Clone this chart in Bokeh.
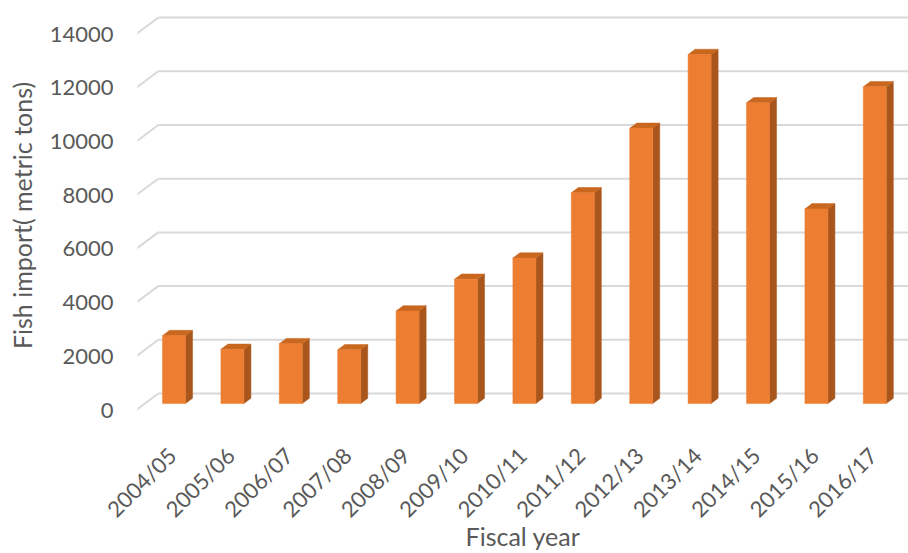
from math import pi
from bokeh.plotting import figure
from bokeh.models import FixedTicker, Range1d
from bokeh.embed import file_html
from bokeh.resources import INLINE

# Fish imports by fiscal year (metric tons)
years = ["2004/05", "2005/06", "2006/07", "2007/08", "2008/09", "2009/10",
         "2010/11", "2011/12", "2012/13", "2013/14", "2014/15", "2015/16",
         "2016/17"]
imports = [2530, 2020, 2230, 2000, 3450, 4630, 5420, 7850, 10250, 13000,
           11200, 7250, 11800]
y_ticks = [0, 2000, 4000, 6000, 8000, 10000, 12000, 14000]

FRONT = "#ED7D31"
SIDE = "#A9561D"
TOP = "#C9671F"
GRID = "#D9D9D9"
TEXT = "#595959"
FONT = "Lato"

# pixel geometry of the plotting frame
W, H = 908, 553
LEFT, RIGHT, TOP_B, BOTTOM = 137, 0, 5, 128
frame_w = W - LEFT - RIGHT
frame_h = H - TOP_B - BOTTOM
px_per_cat = 58.4
px_per_unit = 0.02685
first_tick_px = 34.5            # first category tick, from the frame's left edge
col_shift = 2 / px_per_cat      # column centre relative to its tick
zero_px = 409.5 - TOP_B         # front-plane zero, from the frame's top

x0 = -first_tick_px / px_per_cat
x1 = x0 + frame_w / px_per_cat
y1 = zero_px / px_per_unit
y0 = y1 - frame_h / px_per_unit

# oblique depth of the box (floor) expressed in data units
DX = 22 / px_per_cat
DY = 16.5 / px_per_unit
bar_front = 0.39                # depth of a column's front face
bar_depth = 0.32                # depth of a column
half_w = 11.5 / px_per_cat

p = figure(frame_width=frame_w, frame_height=frame_h,
           output_backend="svg", toolbar_location=None,
           x_range=Range1d(x0, x1), y_range=Range1d(y0, y1),
           min_border_left=LEFT, min_border_right=RIGHT,
           min_border_top=TOP_B, min_border_bottom=BOTTOM)
p.outline_line_color = None
p.background_fill_color = "white"
p.border_fill_color = "white"
p.xgrid.visible = False
p.ygrid.visible = False

# walls: gridlines on the side wall (slanted) and on the back wall
floor_left = col_shift - 0.5 - bar_front * DX
for t in y_ticks:
    p.line([floor_left, floor_left + DX], [t, t + DY], line_color=GRID, line_width=2)
    p.line([floor_left + DX, x1 + 1], [t + DY, t + DY], line_color=GRID, line_width=2)

# columns: front face, right side, top
base = bar_front * DY
bx = bar_depth * DX
by = bar_depth * DY
xs = list(range(len(years)))
centers = [i + col_shift for i in xs]
side_xs, side_ys, top_xs, top_ys = [], [], [], []
for c, v in zip(centers, imports):
    l, r = c - half_w, c + half_w
    t = v + base
    side_xs.append([r, r + bx, r + bx, r])
    side_ys.append([base, base + by, t + by, t])
    top_xs.append([l, l + bx, r + bx, r])
    top_ys.append([t, t + by, t + by, t])

p.patches(side_xs, side_ys, fill_color=SIDE, line_color=SIDE, line_width=0.5)
p.patches(top_xs, top_ys, fill_color=TOP, line_color=TOP, line_width=0.5)
p.vbar(x=centers, width=2 * half_w, bottom=base, top=[v + base for v in imports],
       fill_color=FRONT, line_color=FRONT, line_width=0.5)

# axes
p.xaxis.ticker = FixedTicker(ticks=xs)
p.xaxis.major_label_overrides = {i: y for i, y in enumerate(years)}
p.xaxis.major_label_orientation = pi / 4
p.yaxis.ticker = FixedTicker(ticks=y_ticks)
for ax in (p.xaxis, p.yaxis):
    ax.axis_line_color = None
    ax.major_tick_line_color = None
    ax.minor_tick_line_color = None
    ax.major_label_text_font = FONT
    ax.major_label_text_font_size = "22px"
    ax.major_label_text_color = TEXT
    ax.axis_label_text_font = FONT
    ax.axis_label_text_font_size = "25px"
    ax.axis_label_text_font_style = "normal"
    ax.axis_label_text_color = TEXT
p.yaxis.major_label_standoff = 18
p.xaxis.major_label_standoff = 20
p.xaxis.axis_label = "Fiscal year"
p.yaxis.axis_label = "Fish import( metric tons)"
p.xaxis.axis_label_standoff = -14
p.yaxis.axis_label_standoff = 10

open("out.html", "w").write(file_html(p, INLINE))
